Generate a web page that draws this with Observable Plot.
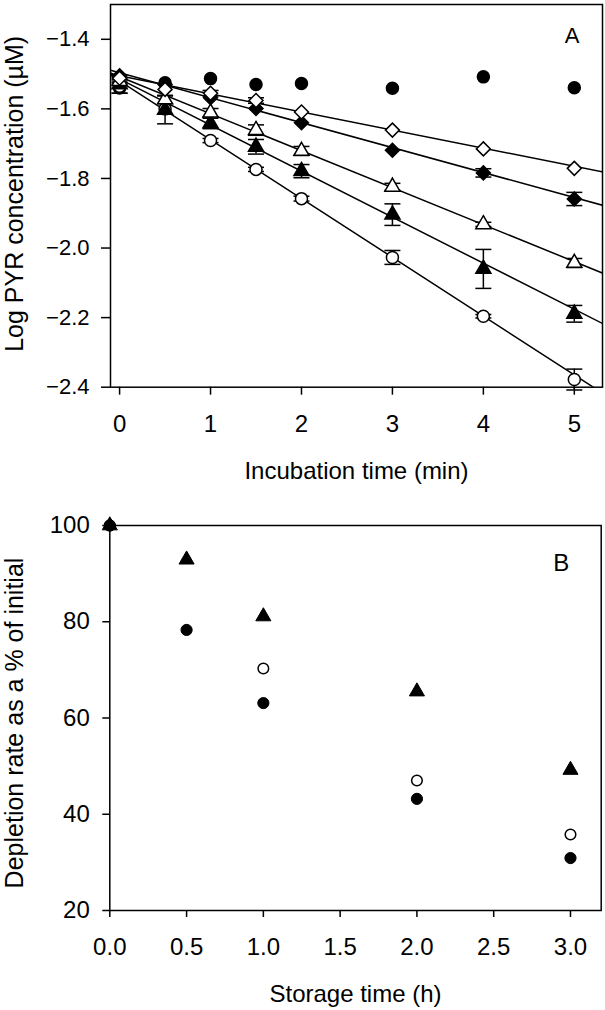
<!DOCTYPE html>
<html><head><meta charset="utf-8">
<script src="https://cdn.jsdelivr.net/npm/d3@7"></script>
<script src="https://cdn.jsdelivr.net/npm/@observablehq/plot@0.6"></script>
<style>
body{margin:0;background:#fff;}
#chart{width:605px;}
#chart svg{display:block;}
</style></head><body><div id="chart"></div>
<script>
// ---------- Panel A data ----------
const timesA = [0, 0.5, 1, 1.5, 2, 3, 4, 5];
const fcA = [-1.540, -1.525, -1.513, -1.530, -1.527, -1.541, -1.508, -1.539];
const odA = [-1.512, -1.544, -1.555, -1.576, -1.609, -1.661, -1.715, -1.771];
const fdA = [-1.505, -1.530, -1.568, -1.599, -1.640, -1.719, -1.784, -1.859];
const otA = [-1.520, -1.573, -1.611, -1.661, -1.721, -1.824, -1.932, -2.043];
const ftA = [-1.530, -1.603, -1.642, -1.709, -1.779, -1.904, -2.060, -2.189];
const ocA = [-1.535, -1.600, -1.691, -1.774, -1.858, -2.027, -2.196, -2.378];
const fcErr = [0.015, 0, 0, 0, 0, 0, 0, 0];
const odErr = [0, 0, 0.008, 0.008, 0, 0, 0, 0];
const fdErr = [0, 0, 0, 0, 0, 0, 0.012, 0.019];
const otErr = [0.010, 0.012, 0.012, 0.015, 0.013, 0.010, 0.006, 0.013];
const ftErr = [0.010, 0.040, 0.015, 0.021, 0.019, 0.031, 0.056, 0.024];
const ocErr = [0.020, 0, 0.006, 0.006, 0.007, 0.020, 0.005, 0.030];
// fitted lines read at the two frame edges
const lineT = [-0.1, 5.31];
const odLine = [-1.500, -1.781];
const fdLine = [-1.489, -1.877];
const otLine = [-1.497, -2.072];
const ftLine = [-1.501, -2.217];
const ocLine = [-1.503, -2.417];
const yTicksA = [-2.4, -2.2, -2.0, -1.8, -1.6, -1.4];
const xTicksA = [0, 1, 2, 3, 4, 5];

// ---------- Panel B data ----------
const triT = [0, 0.5, 1, 2, 3];
const triB = [100, 92.9, 81.1, 65.5, 49.2];
const ocT = [0, 1, 2, 3];
const ocB = [100, 70.3, 47.0, 35.8];
const fcT = [0, 0.5, 1, 2, 3];
const fcB = [100, 78.3, 63.1, 43.2, 30.9];
const xTicksB = [0, 0.5, 1, 1.5, 2, 2.5, 3];
const yTicksB = [20, 40, 60, 80, 100];

const FONT = "'Liberation Sans', Arial, sans-serif";
const capSymbol = {draw(ctx, size){ const r = Math.sqrt(size/Math.PI); ctx.moveTo(-r,0); ctx.lineTo(r,0); }};

function rows(vals, errs){ return timesA.map((t,i)=>({t, v: vals[i], e: errs[i]})); }
const seriesA = [
  {rows: rows(fcA, fcErr), symbol: "circle", fill: "black", r: 6},
  {rows: rows(ocA, ocErr), symbol: "circle", fill: "white", r: 6},
  {rows: rows(ftA, ftErr), symbol: "triangle", fill: "black", r: 5.6},
  {rows: rows(otA, otErr), symbol: "triangle", fill: "white", r: 5.6},
  {rows: rows(fdA, fdErr), symbol: "diamond2", fill: "black", r: 6.3},
  {rows: rows(odA, odErr), symbol: "diamond2", fill: "white", r: 6.3}
];
const linesA = [odLine, fdLine, otLine, ftLine, ocLine].map(L => lineT.map((t,i)=>({t, v: L[i]})));
const allRows = seriesA.flatMap(s => s.rows).filter(d => d.e > 0);
const caps = allRows.flatMap(d => [{t: d.t, v: d.v + d.e}, {t: d.t, v: d.v - d.e}]);

const plotA = Plot.plot({
  width: 605, height: 505,
  marginLeft: 110, marginRight: 3, marginTop: 4, marginBottom: 118.3,
  style: {fontFamily: FONT, color: "black", background: "white", overflow: "visible"},
  x: {domain: [-0.1, 5.31]},
  y: {domain: [-2.4, -1.3]},
  marks: [
    Plot.axisY({ticks: yTicksA, tickFormat: d => d.toFixed(1).replace("-", "\u2212"), tickSize: 9, tickPadding: 12, fontSize: 22, strokeWidth: 1.5, label: null}),
    Plot.axisX({ticks: xTicksA, tickFormat: d => String(d), tickSize: 8, tickPadding: 20, fontSize: 24, strokeWidth: 1.5, label: null}),
    ...linesA.map(L => Plot.line(L, {x: "t", y: "v", stroke: "black", strokeWidth: 1.5, clip: true})),
    Plot.ruleX(allRows, {x: "t", y1: d => d.v - d.e, y2: d => d.v + d.e, stroke: "black", strokeWidth: 1.5}),
    Plot.dot(caps, {x: "t", y: "v", symbol: capSymbol, r: 8, stroke: "black", strokeWidth: 1.5}),
    ...seriesA.map(s => Plot.dot(s.rows, {x: "t", y: "v", symbol: s.symbol, r: s.r, fill: s.fill, stroke: "black", strokeWidth: 1.5})),
    Plot.frame({stroke: "black", strokeWidth: 1.5}),
    Plot.text(["A"], {frameAnchor: "top-right", textAnchor: "end", lineAnchor: "top", dx: -23, dy: 22.7, fontSize: 22}),
    Plot.text(["Incubation time (min)"], {frameAnchor: "bottom", lineAnchor: "top", dy: 75, fontSize: 24}),
    Plot.text(["Log PYR concentration (µM)"], {frameAnchor: "left", textAnchor: "middle", lineAnchor: "top", rotate: -90, dx: -105, dy: -2, fontSize: 25})
  ]
});

const plotB = Plot.plot({
  width: 605, height: 505,
  marginLeft: 109.3, marginRight: 4.3, marginTop: 20, marginBottom: 100,
  style: {fontFamily: FONT, color: "black", background: "white", overflow: "visible"},
  x: {domain: [0, 3.2]},
  y: {domain: [20, 100]},
  marks: [
    Plot.axisY({ticks: yTicksB, tickFormat: d => String(d), tickSize: 7, tickPadding: 13, fontSize: 24, strokeWidth: 1.5, label: null}),
    Plot.axisX({ticks: xTicksB, tickFormat: d => d.toFixed(1), tickSize: 7, tickPadding: 20, fontSize: 24, strokeWidth: 1.5, label: null}),
    Plot.frame({stroke: "black", strokeWidth: 1.5}),
    Plot.dot(ocT.map((t,i)=>({t, v: ocB[i]})), {x: "t", y: "v", symbol: "circle", r: 5.3, fill: "white", stroke: "black", strokeWidth: 1.5}),
    Plot.dot(triT.map((t,i)=>({t, v: triB[i]})), {x: "t", y: "v", symbol: "triangle", r: 5.6, fill: "black", stroke: "black", strokeWidth: 1}),
    Plot.dot(fcT.map((t,i)=>({t, v: fcB[i]})), {x: "t", y: "v", symbol: "circle", r: 5.6, fill: "black", stroke: "black", strokeWidth: 1}),
    Plot.text(["B"], {frameAnchor: "top-right", textAnchor: "end", lineAnchor: "top", dx: -32, dy: 28, fontSize: 24}),
    Plot.text(["Storage time (h)"], {frameAnchor: "bottom", lineAnchor: "top", dy: 74, fontSize: 24}),
    Plot.text(["Depletion rate as a % of initial"], {frameAnchor: "left", textAnchor: "middle", lineAnchor: "top", rotate: -90, dx: -105, dy: 5, fontSize: 25})
  ]
});

document.getElementById("chart").append(plotA, plotB);
</script>
</body></html>
